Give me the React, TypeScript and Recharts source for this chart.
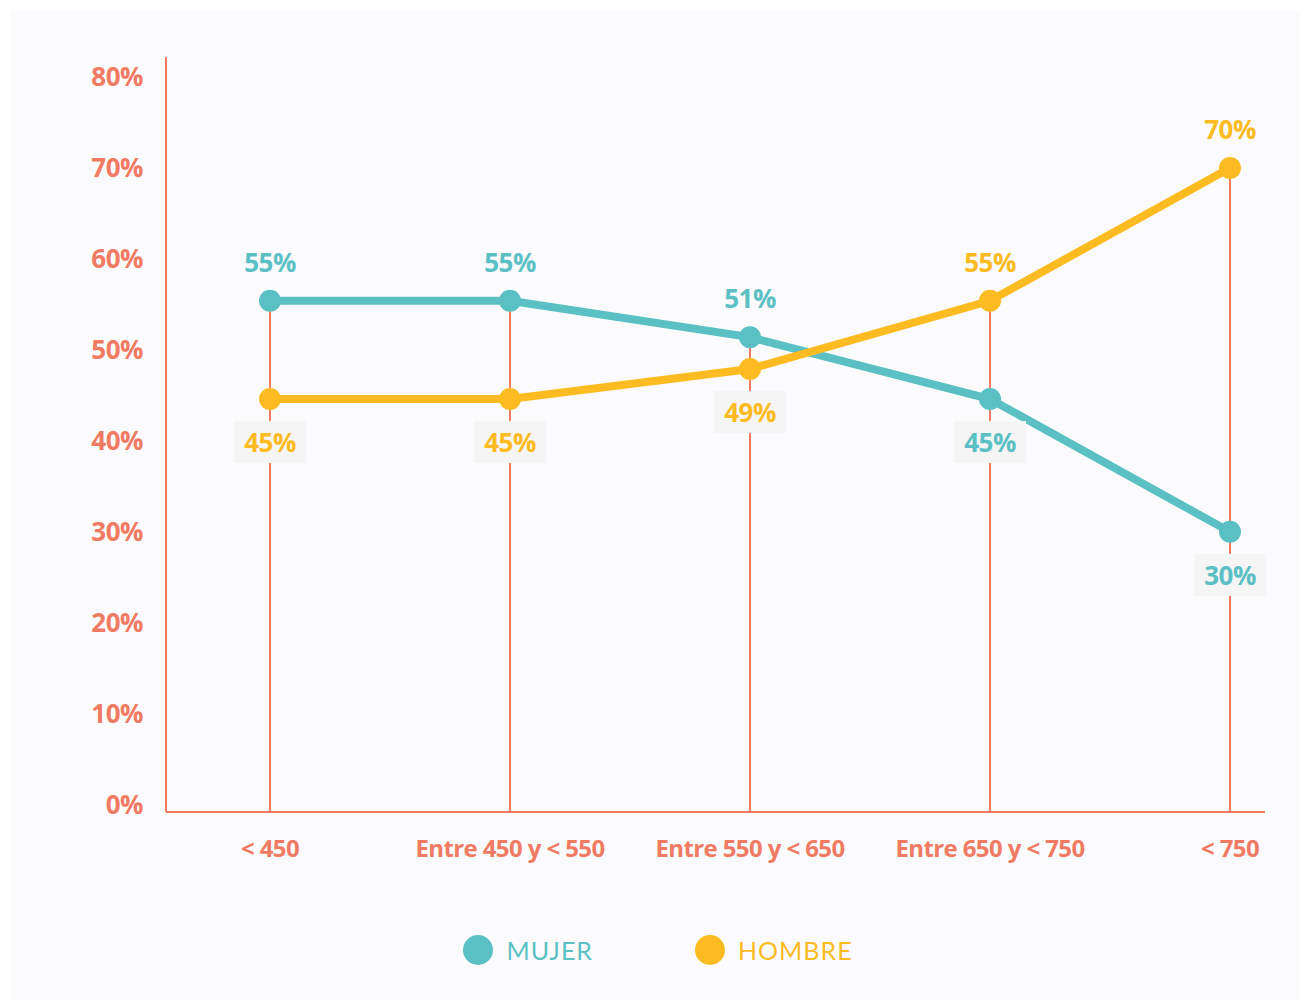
import React from 'react';
import {
  LineChart,
  Line,
  XAxis,
  YAxis,
  Legend,
  LabelList,
  ReferenceLine,
} from 'recharts';

const categories = ['< 450', 'Entre 450 y < 550', 'Entre 550 y < 650', 'Entre 650 y < 750', '< 750'];
const mujer = [55.4, 55.4, 51.4, 44.6, 30];
const hombre = [44.6, 44.6, 47.9, 55.4, 70];
const mujerLabels = ['55%', '55%', '51%', '45%', '30%'];
const hombreLabels = ['45%', '45%', '49%', '55%', '70%'];
const yTicks = [0, 10, 20, 30, 40, 50, 60, 70, 80];

const TEAL = '#5bc0c3';
const YELLOW = '#fdbb22';
const CORAL = '#f07a62';
const FONT = '"Open Sans", sans-serif';

const data = categories.map((name, i) => ({
  name,
  mujer: mujer[i],
  hombre: hombre[i],
}));

const makeLabel = (values: number[], other: number[], labels: string[], color: string) => (props: any) => {
  const { x, y, index } = props;
  const above = values[index] >= other[index];
  if (above) {
    return (
      <text x={x} y={y - 39} textAnchor="middle" dominantBaseline="central"
        fill={color} fontFamily={FONT} fontWeight={700} fontSize={26} letterSpacing={-0.5}>
        {labels[index]}
      </text>
    );
  }
  return (
    <g>
      <rect x={x - 36} y={y + 22} width={72} height={42} fill="#f5f5f5" />
      <text x={x} y={y + 43} textAnchor="middle" dominantBaseline="central"
        fill={color} fontFamily={FONT} fontWeight={700} fontSize={26} letterSpacing={-0.5}>
        {labels[index]}
      </text>
    </g>
  );
};

const LegendContent = () => (
  <div style={{ display: 'flex', justifyContent: 'center', alignItems: 'center', height: 40, paddingLeft: 40, fontFamily: 'Lato, sans-serif' }}>
    {[
      { label: 'MUJER', color: TEAL },
      { label: 'HOMBRE', color: YELLOW },
    ].map((item, i) => (
      <div key={item.label} style={{ display: 'flex', alignItems: 'center', marginLeft: i ? 102 : 0 }}>
        <span style={{ width: 30, height: 30, borderRadius: '50%', background: item.color, display: 'inline-block' }} />
        <span style={{ marginLeft: 13, color: item.color, fontSize: 25, letterSpacing: 1 }}>{item.label}</span>
      </div>
    ))}
  </div>
);

export default function App() {
  return (
    <div style={{ position: 'absolute', left: 11, top: 10, width: 1289, height: 990, background: '#fbfbfd' }}>
      <LineChart width={1289} height={990} data={data} margin={{ top: 47, right: 35, bottom: 88, left: 0 }}>
        <XAxis
          dataKey="name"
          height={60}
          padding={{ left: 104, right: 35 }}
          axisLine={{ stroke: CORAL, strokeWidth: 2 }}
          tickLine={false}
          tickSize={0}
          tickMargin={28}
          tick={{ fill: CORAL, fontFamily: FONT, fontWeight: 700, fontSize: 24, letterSpacing: -0.6 }}
        />
        <YAxis
          width={155}
          domain={[-0.8, 82.2]}
          ticks={yTicks}
          tickFormatter={(v) => `${v}%`}
          axisLine={{ stroke: CORAL, strokeWidth: 2 }}
          tickLine={false}
          tickSize={0}
          tickMargin={23}
          tick={{ fill: CORAL, fontFamily: FONT, fontWeight: 700, fontSize: 26, letterSpacing: -0.5 }}
        />
        {categories.map((c, i) => (
          <ReferenceLine
            key={c}
            segment={[{ x: c, y: -0.8 }, { x: c, y: Math.max(mujer[i], hombre[i]) }]}
            stroke={CORAL}
            strokeWidth={2}
          />
        ))}
        <Legend
          verticalAlign="bottom"
          height={40}
          wrapperStyle={{ bottom: 30 }}
          content={<LegendContent />}
        />
        <Line
          dataKey="mujer"
          stroke={TEAL}
          strokeWidth={8}
          dot={{ r: 11, fill: TEAL, stroke: 'none' }}
          activeDot={false}
          isAnimationActive={false}
        >
          <LabelList dataKey="mujer" content={makeLabel(mujer, hombre, mujerLabels, TEAL)} />
        </Line>
        <Line
          dataKey="hombre"
          stroke={YELLOW}
          strokeWidth={8}
          dot={{ r: 11, fill: YELLOW, stroke: 'none' }}
          activeDot={false}
          isAnimationActive={false}
        >
          <LabelList dataKey="hombre" content={makeLabel(hombre, mujer, hombreLabels, YELLOW)} />
        </Line>
      </LineChart>
    </div>
  );
}
